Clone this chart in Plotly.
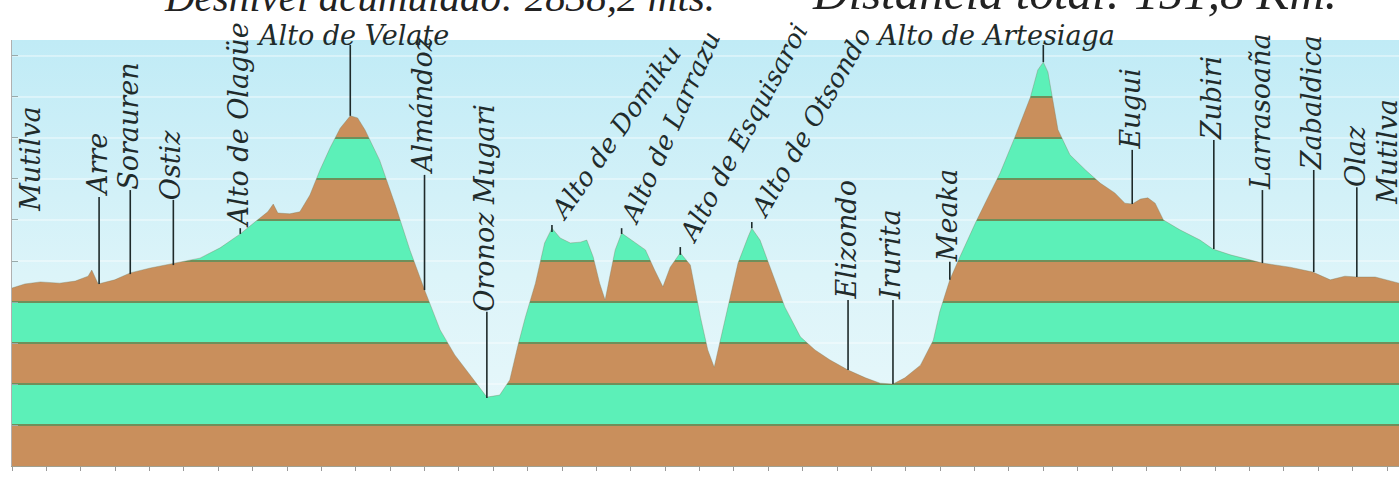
import plotly.graph_objects as go

# ---------------- data ----------------
# distance (km) and elevation (m) of the profile
dist_km = [0.0, 1.4, 3.1, 5.2, 6.9, 8.3, 8.7, 9.4, 11.2, 12.9, 15.1, 17.5, 20.5, 22.7, 24.9,
           26.5, 27.9, 28.5, 29.0, 30.3, 31.4, 32.5, 33.6, 34.7, 35.8, 36.9, 37.7, 38.5, 40.1,
           41.8, 43.4, 45.1, 46.7, 48.3, 50.0, 51.8, 53.2, 54.3, 55.2, 56.0, 57.1, 58.1, 58.9,
           59.8, 60.9, 62.0, 62.7, 63.4, 64.1, 64.7, 65.2, 65.8, 66.5, 67.6, 69.1, 70.1, 71.0,
           71.8, 72.9, 74.0, 75.1, 75.9, 76.6, 77.2, 78.1, 79.2, 80.3, 80.7, 81.6, 82.7, 84.3,
           86.0, 87.6, 89.2, 91.2, 93.1, 94.7, 96.1, 97.4, 99.1, 100.5, 101.2, 102.3, 103.4,
           105.1, 106.7, 107.8, 109.4, 111.1, 111.9, 112.5, 113.0, 113.5, 114.1, 115.4, 117.1,
           118.7, 120.3, 121.4, 122.2, 123.1, 123.9, 124.7, 125.6, 127.4, 129.6, 131.0, 132.9,
           136.4, 139.4, 141.9, 143.8, 145.4, 146.7, 148.7, 151.3]
elev_m = [434, 444, 449, 446, 451, 463, 478, 444, 454, 471, 483, 493, 507, 532, 566,
          595, 620, 639, 617, 615, 620, 661, 722, 776, 824, 854, 849, 820, 746,
          637, 527, 424, 332, 271, 222, 168, 173, 210, 295, 363, 446, 544, 580,
          556, 544, 546, 551, 510, 446, 405, 461, 527, 568, 551, 527, 478, 437,
          485, 520, 490, 363, 283, 241, 300, 388, 495, 559, 580, 551, 485, 388,
          315, 283, 259, 234, 215, 202, 200, 215, 246, 307, 376, 454, 510,
          593, 666, 715, 802, 900, 966, 985, 961, 900, 820, 759, 722,
          690, 666, 641, 639, 651, 654, 641, 600, 576, 551, 529, 515,
          495, 485, 473, 454, 463, 461, 461, 446]

# place labels
label_names = ["Mutilva", "Arre", "Sorauren", "Ostiz", "Alto de Olagüe", "Alto de Velate",
               "Almándoz", "Oronoz Mugari", "Alto de Domiku", "Alto de Larrazu",
               "Alto de Esquisaroi", "Alto de Otsondo", "Elizondo", "Irurita", "Meaka",
               "Alto de Artesiaga", "Eugui", "Zubiri", "Larrasoaña", "Zabaldica", "Olaz", "Mutilva"]
label_km = [2.3, 9.5, 12.9, 17.6, 24.9, 36.9, 45.0, 51.8, 58.9, 66.5, 72.9, 80.7, 91.2, 96.1,
            102.3, 112.5, 122.2, 131.1, 136.4, 142.0, 146.7, 150.3]
label_text_km = [2.3, 9.5, 12.9, 17.6, 24.9, 37.1, 45.0, 51.8, 58.9, 66.5, 72.9, 80.7, 91.2, 96.1,
                 102.3, 107.2, 122.2, 131.1, 136.4, 142.0, 146.7, 150.3]
label_ground_m = [620, 444, 468, 490, 566, 854, 429, 166, 571, 566, 515, 580, 234, 200,
                  454, 985, 639, 529, 495, 473, 461, 637]
label_top_m = [620, 656, 673, 649, 580, 1027, 710, 376, 588, 580, 534, 595, 405, 405,
               498, 1027, 771, 795, 673, 722, 680, 637]
label_angle = [-90, -90, -90, -90, -90, 0, -90, -90, -55, -66, -62, -60, -90, -90, -90,
               0, -90, -90, -90, -90, -90, -90]

band_levels = [0, 100, 200, 300, 400, 500, 600, 700, 800, 900, 1000]
tick_km = [i * 3.75 for i in range(41)]

title_left = "Desnivel acumulado: 2838,2 mts."
title_right = "Distancia total: 151,8 Km."

# ---------------- style ----------------
BROWN = "#c98f5c"
GREEN = "#5cf0b8"
EDGE = "#6f8f5a"
YMAX = 1039
XMAX = 151.3

# stepped colour scale for the ground (bands of 100 m, brown / green alternating)
top = band_levels[-1]
cs = []
for i in range(len(band_levels) - 1):
    lo, hi = band_levels[i] / top, band_levels[i + 1] / top
    col = BROWN if i % 2 == 0 else GREEN
    e = 0.0022
    a = lo + (e if i > 0 else 0)
    b = hi - e if i < len(band_levels) - 2 else hi
    if i > 0:
        cs.append([lo, EDGE])
        cs.append([a, EDGE])
    cs.append([a, col])
    cs.append([b, col])
    if i < len(band_levels) - 2:
        cs.append([b, EDGE])
cs[0][0] = 0.0
cs[-1][0] = 1.0

fig = go.Figure()

# sky
fig.add_trace(go.Scatter(
    x=[0, XMAX], y=[YMAX, YMAX], mode="lines", line=dict(width=0),
    fill="tozeroy",
    fillgradient=dict(type="vertical", start=0, stop=YMAX,
                      colorscale=[[0, "#eaf8fb"], [0.45, "#dcf4f9"], [1, "#c0ebf6"]]),
    hoverinfo="skip", showlegend=False))

# light grid lines in the sky
gx, gy = [], []
for lv in band_levels[1:]:
    gx += [0, XMAX, None]
    gy += [lv, lv, None]
fig.add_trace(go.Scatter(x=gx, y=gy, mode="lines",
                         line=dict(color="rgba(255,255,255,0.75)", width=1),
                         hoverinfo="skip", showlegend=False))

# ground with bands
fig.add_trace(go.Scatter(
    x=dist_km, y=elev_m, mode="lines", line=dict(width=0.6, color="rgba(120,120,90,0.6)"),
    fill="tozeroy",
    fillgradient=dict(type="vertical", start=0, stop=top, colorscale=cs),
    hoverinfo="skip", showlegend=False))

# leader lines
lx, ly = [], []
for k, g, t in zip(label_km, label_ground_m, label_top_m):
    if t != g:
        lx += [k, k, None]
        ly += [g, t, None]
fig.add_trace(go.Scatter(x=lx, y=ly, mode="lines", line=dict(color="#1e2a2a", width=1.6),
                         hoverinfo="skip", showlegend=False, cliponaxis=False))

LFONT = dict(family="DejaVu Serif", size=27, color="#1f2b2b", style="italic")
AFONT = dict(family="DejaVu Serif", size=26, color="#1f2b2b", style="italic")
for name, tk, t, ang in zip(label_names, label_text_km, label_top_m, label_angle):
    if ang == -90:
        fig.add_annotation(x=tk, y=t, xref="x", yref="y", text=name, textangle=-90,
                           showarrow=False, xanchor="center", yanchor="bottom",
                           xshift=-2, yshift=-2, font=LFONT)
    elif ang == 0:
        fig.add_annotation(x=tk, y=t, xref="x", yref="y", text=name, textangle=0,
                           showarrow=False, xanchor="center", yanchor="bottom",
                           yshift=-8, font=LFONT)
    else:
        fig.add_annotation(x=tk, y=t, xref="x", yref="y", text=name, textangle=ang,
                           showarrow=False, xanchor="left", yanchor="bottom",
                           xshift=-10, yshift=-3, font=AFONT)

fig.add_annotation(x=0.308, y=1.043, xref="paper", yref="paper", text=title_left,
                   showarrow=False, xanchor="center", yanchor="bottom",
                   font=dict(family="Liberation Serif", size=41, color="#222222", style="italic"))
fig.add_annotation(x=0.766, y=1.043, xref="paper", yref="paper", text=title_right,
                   showarrow=False, xanchor="center", yanchor="bottom",
                   font=dict(family="Liberation Serif", size=49, color="#222222", style="italic"))

fig.update_layout(
    width=1399, height=477,
    margin=dict(l=12, r=0, t=40, b=11),
    paper_bgcolor="white", plot_bgcolor="#d8f3f9",
    showlegend=False,
    xaxis=dict(range=[0, XMAX], showgrid=False, zeroline=False, showticklabels=False,
               tickmode="array", tickvals=tick_km, ticks="outside", ticklen=4,
               tickcolor="#999999", showline=True, linecolor="#a0a090", linewidth=1),
    yaxis=dict(range=[0, YMAX], showgrid=False, zeroline=False, showticklabels=False,
               tickmode="array", tickvals=band_levels, ticks="inside", ticklen=6,
               tickcolor="#9aa", showline=True, linecolor="#b0b0b0", linewidth=1),
)

fig.write_html("out.html", config={"displayModeBar": False},
               post_script="document.body.style.margin='0';document.body.style.overflow='hidden';")
